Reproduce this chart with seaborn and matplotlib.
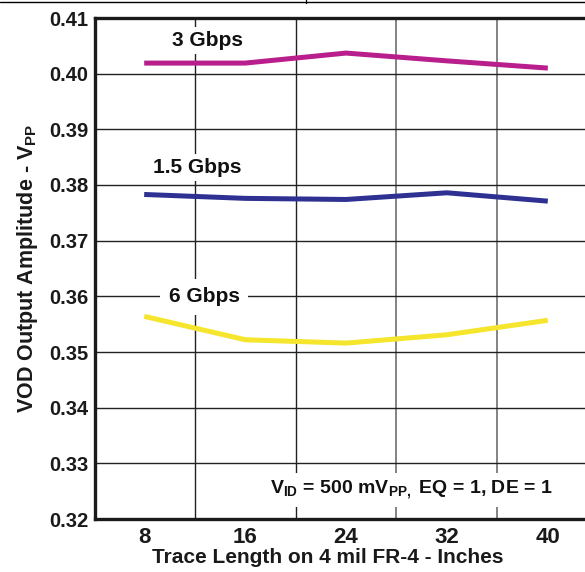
import matplotlib
matplotlib.use("Agg")
import matplotlib.pyplot as plt
from matplotlib.lines import Line2D
import seaborn as sns
import pandas as pd

trace_len = [8, 16, 24, 32, 40]
v_3g = [0.4019, 0.4019, 0.4037, 0.4023, 0.4010]
v_1g5 = [0.3783, 0.3776, 0.3774, 0.3786, 0.3771]
v_6g = [0.3564, 0.3522, 0.3516, 0.3531, 0.3557]
series_names = ["3 Gbps", "1.5 Gbps", "6 Gbps"]
series_colors = ["#B81F8C", "#2E3192", "#F5E52C"]
y_ticks = [0.32, 0.33, 0.34, 0.35, 0.36, 0.37, 0.38, 0.39, 0.40, 0.41]

df = pd.DataFrame({
    "x": trace_len * 3,
    "v": v_3g + v_1g5 + v_6g,
    "rate": [series_names[0]] * 5 + [series_names[1]] * 5 + [series_names[2]] * 5,
})

sns.set_theme(style="white")
plt.rcParams["font.family"] = ["Liberation Sans", "DejaVu Sans"]
plt.rcParams["font.weight"] = "bold"
plt.rcParams["mathtext.fontset"] = "custom"
plt.rcParams["mathtext.rm"] = "Liberation Sans:bold"
plt.rcParams["mathtext.bf"] = "Liberation Sans:bold"

fig = plt.figure(figsize=(5.85, 5.72), dpi=100)
ax = fig.add_axes([95 / 585, 1 - 519 / 572, 1 - 95 / 585, (519 - 18) / 572])

# grid
for xv in [12, 20]:
    ax.axvline(xv, color="#222222", lw=1.0, zorder=1)
for xv in [28, 36]:
    ax.axvline(xv, color="#7a7a7a", lw=1.3, zorder=1)
for yv in y_ticks[1:-1]:
    ax.axhline(yv, color="#222222", lw=1.0, zorder=1)

sns.lineplot(data=df, x="x", y="v", hue="rate", palette=series_colors,
             hue_order=series_names, lw=3.6, legend=False, ax=ax, zorder=3,
             solid_capstyle="butt")

ax.set_xlim(4.1, 42.95)
ax.set_ylim(0.32, 0.41)
ax.set_xticks(trace_len)
ax.set_xticklabels([str(v) for v in trace_len])
ax.set_yticks(y_ticks)
ax.set_yticklabels([f"{v:.2f}" for v in y_ticks])
ax.tick_params(axis="x", labelsize=16, pad=6, length=0)
ax.tick_params(axis="y", labelsize=14.5, pad=5, length=0)
for lab in ax.get_xticklabels() + ax.get_yticklabels():
    lab.set_fontweight("bold")
    lab.set_color("#1a1a1a")

ax.set_xlabel("Trace Length on 4 mil FR-4 - Inches", fontsize=15,
              fontweight="bold", color="#1a1a1a", labelpad=0,
              x=(328 - 95) / 490, ha="center")
ax.set_ylabel(r"VOD Output Amplitude - V$_{\mathrm{PP}}$", fontsize=15.5,
              fontweight="bold", color="#1a1a1a", labelpad=6)

for s in ["left", "bottom", "top"]:
    ax.spines[s].set_linewidth(2.4)
    ax.spines[s].set_color("#1a1a1a")
ax.spines["right"].set_visible(False)

bbox = dict(facecolor="white", edgecolor="none", pad=3)
ax.text(13.0, 0.4059, "3 Gbps", ha="center", va="center", fontsize=15,
        fontweight="bold", bbox=bbox, zorder=4, color="#111111")
ax.text(12.2, 0.3831, "1.5 Gbps", ha="center", va="center", fontsize=15,
        fontweight="bold", bbox=bbox, zorder=4, color="#111111")
ax.text(12.75, 0.3599, "6 Gbps", ha="center", va="center", fontsize=15,
        fontweight="bold", bbox=dict(facecolor="white", edgecolor="none", pad=6),
        zorder=4, color="#111111")
ax.text(29.2, 0.3252,
        r"$\mathrm{V_{ID}}$ = 500 mV$_{\mathrm{PP,}}$ EQ = 1, DE = 1",
        ha="center", va="center", fontsize=14, fontweight="bold",
        bbox=dict(facecolor="white", edgecolor="none", pad=4), zorder=4,
        color="#111111")

# cropping artifacts at top of image
fig.add_artist(Line2D([0, 1], [1 - 1.5 / 572, 1 - 1.5 / 572], color="black", lw=1.0))
fig.add_artist(Line2D([306 / 585, 306 / 585], [1, 1 - 3 / 572], color="black", lw=1.0))

fig.savefig("out.png", dpi=100)
